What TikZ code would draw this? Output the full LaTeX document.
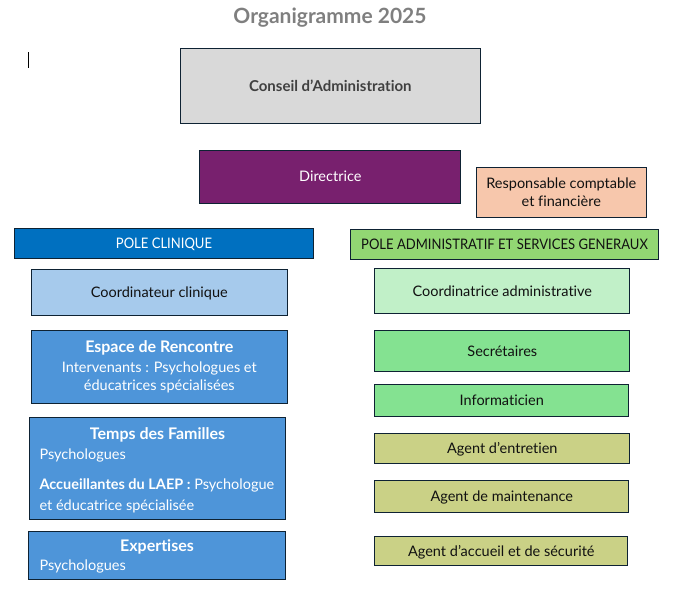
\documentclass[tikz,border=0pt]{standalone}
\usepackage{fontspec}
\usepackage{graphicx}
\setmainfont{Lato}[Ligatures=NoCommon]
\definecolor{bordercol}{HTML}{0E2233}
\definecolor{titlegray}{HTML}{7F7F7F}
\definecolor{conseilfill}{HTML}{D9D9D9}
\definecolor{conseiltext}{HTML}{404040}
\definecolor{dirfill}{HTML}{78206E}
\definecolor{respfill}{HTML}{F7C7AC}
\definecolor{pcfill}{HTML}{0070C0}
\definecolor{pafill}{HTML}{92D773}
\definecolor{ccfill}{HTML}{A6CAEC}
\definecolor{bluefill}{HTML}{4E95D9}
\definecolor{cafill}{HTML}{C1F0C8}
\definecolor{greenfill}{HTML}{84E291}
\definecolor{olivefill}{HTML}{CAD186}
\definecolor{darktext}{HTML}{111111}
\begin{document}
\begin{tikzpicture}[x=1pt,y=-1pt,
  box/.style={draw=bordercol, line width=1pt, inner sep=0pt, text=darktext, text depth=0pt,
    font=\fontsize{14.5}{17}\selectfont, align=center},
  whitetxt/.style={text=white},
  headtxt/.style={inner sep=0pt, text=white, font=\fontsize{16}{19}\selectfont\bfseries},
  bodytxt/.style={inner sep=0pt, text=white, font=\fontsize{14.5}{19}\selectfont}
]
\useasboundingbox (0,0) rectangle (680,595);

\node[inner sep=0pt, text=titlegray, font=\fontsize{21}{24}\selectfont\bfseries] (title) at (330,18) {Organigramme 2025};
\coordinate (curtop) at (28,52);
\coordinate (curbot) at (28,68);
\draw[line width=0.8pt, black] (curtop) -- (curbot);

\node[box, fill=conseilfill, minimum width=300.5pt, minimum height=75pt, text=conseiltext, font=\fontsize{15}{18}\selectfont\bfseries] (conseil) at (330.3,85.8) {Conseil d’Administration};
\node[box, fill=dirfill, whitetxt, minimum width=260.7pt, minimum height=53.3pt] (dir) at (330.3,176.7) {Directrice};
\node[box, fill=respfill, minimum width=170pt, minimum height=50pt, font=\fontsize{14.5}{18}\selectfont] (resp) at (561.3,192.3) {Responsable comptable\\et financière};

\node[box, fill=pcfill, whitetxt, minimum width=299.4pt, minimum height=30pt] (pc) at (164,243.3) {\scalebox{0.9}[1]{POLE CLINIQUE}};
\node[box, fill=pafill, minimum width=308.4pt, minimum height=30pt] (pa) at (504.5,244.3) {\scalebox{0.9}[1]{POLE ADMINISTRATIF ET SERVICES GENERAUX}};

\node[box, fill=ccfill, minimum width=256pt, minimum height=46pt] (cc) at (159.3,292.3) {Coordinateur clinique};
\node[box, fill=bluefill, minimum width=256pt, minimum height=73.3pt] (espace) at (159.3,366.7) {};
\node[headtxt, anchor=mid] (espaceh) at (159.3,350) {Espace de Rencontre};
\node[bodytxt, anchor=mid, align=center] (espaceb) at (159.3,370) {Intervenants : Psychologues et};
\node[bodytxt, anchor=mid, align=center] (espacec) at (159.3,388) {éducatrices spécialisées};

\node[box, fill=bluefill, minimum width=256.4pt, minimum height=102pt] (temps) at (157.5,468.3) {};
\node[headtxt, anchor=mid] (tempsh) at (157.5,437) {Temps des Familles};
\node[bodytxt, anchor=mid west] (tempsa) at (39.3,457) {Psychologues};
\node[bodytxt, anchor=mid west] (tempsb) at (39.3,487) {\textbf{Accueillantes du LAEP :} Psychologue};
\node[bodytxt, anchor=mid west] (tempsc) at (39.3,508) {et éducatrice spécialisée};

\node[box, fill=bluefill, minimum width=257.4pt, minimum height=48pt] (exp) at (157,555.3) {};
\node[headtxt, anchor=mid] (exph) at (157,549) {Expertises};
\node[bodytxt, anchor=mid west] (expa) at (39.3,568) {Psychologues};

\node[box, fill=cafill, minimum width=254.7pt, minimum height=45pt] (ca) at (502.3,290.8) {Coordinatrice administrative};
\node[box, fill=greenfill, minimum width=254.7pt, minimum height=41pt] (sec) at (502.3,350.8) {Secrétaires};
\node[box, fill=greenfill, minimum width=253.7pt, minimum height=32pt] (info) at (501.8,400.3) {Informaticien};
\node[box, fill=olivefill, minimum width=254.7pt, minimum height=30pt] (entr) at (502.3,448.3) {Agent d’entretien};
\node[box, fill=olivefill, minimum width=253.7pt, minimum height=32pt] (maint) at (501.8,496.3) {Agent de maintenance};
\node[box, fill=olivefill, minimum width=252.7pt, minimum height=29pt] (acc) at (501.3,550.8) {Agent d’accueil et de sécurité};
\end{tikzpicture}
\end{document}
